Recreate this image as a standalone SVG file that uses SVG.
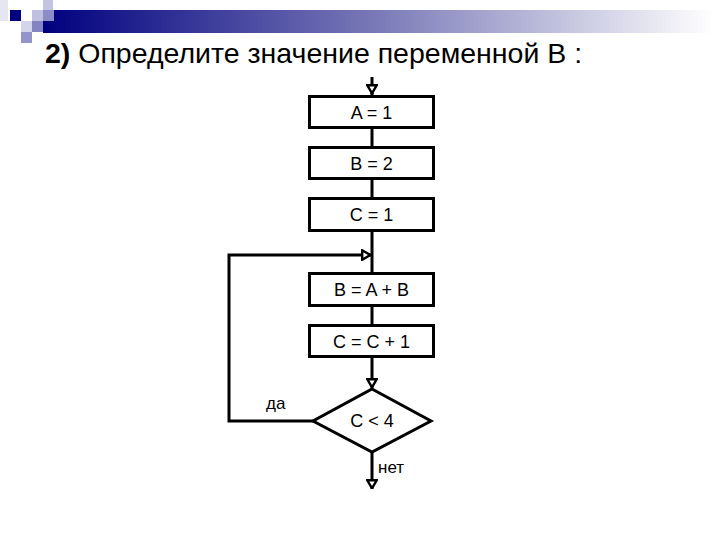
<svg xmlns="http://www.w3.org/2000/svg" width="720" height="540" viewBox="0 0 720 540">
  <defs>
    <linearGradient id="bar" x1="0" y1="0" x2="1" y2="0">
      <stop offset="0" stop-color="#00007f"/>
      <stop offset="0.5" stop-color="#7a7ab8"/>
      <stop offset="1" stop-color="#ffffff"/>
    </linearGradient>
    <marker id="arr" viewBox="0 0 10 12" refX="10" refY="6" markerWidth="10" markerHeight="12" markerUnits="userSpaceOnUse" orient="auto">
      <polygon points="1.2,1.2 9.3,6 1.2,10.8" fill="#ffffff" stroke="#000000" stroke-width="2.4" stroke-linejoin="miter"/>
    </marker>
  </defs>
  <style>
    .box { fill: #ffffff; stroke: #000000; stroke-width: 3; }
    .lbl { font-family: "Liberation Sans", Arial, sans-serif; font-size: 18px; fill: #000000; text-anchor: middle; }
    .small { font-family: "Liberation Sans", Arial, sans-serif; font-size: 17px; fill: #000000; }
    .conn { fill: none; stroke: #000000; stroke-width: 3; }
    .title { font-family: "Liberation Sans", Arial, sans-serif; font-size: 28.5px; fill: #000000; }
  </style>
  <rect width="720" height="540" fill="#ffffff"/>

  <g id="decoration">
    <rect x="43" y="10" width="670" height="23" fill="url(#bar)"/>
    <rect x="0" y="0" width="8" height="21" fill="#e6e6f3"/>
    <rect x="10" y="10" width="11" height="11" fill="#00007f"/>
    <rect x="43" y="0" width="10" height="10" fill="#c4c4e2"/>
    <rect x="32" y="10" width="11" height="11" fill="#c0c0e0"/>
    <rect x="43" y="10" width="11" height="11" fill="#8c8cc6"/>
    <rect x="21" y="21" width="11" height="11" fill="#d4d4ea"/>
    <rect x="32" y="21" width="11" height="11" fill="#8484c2"/>
    <rect x="21" y="32" width="11" height="11" fill="#9494cc"/>
  </g>

  <text class="title" x="45" y="63"><tspan font-weight="bold">2)</tspan> Определите значение переменной В :</text>

  <g id="connectors">
    <path class="conn" d="M372,77 V94" marker-end="url(#arr)"/>
    <path class="conn" d="M372,93 V96"/>
    <path class="conn" d="M372,128 V147"/>
    <path class="conn" d="M372,179 V198"/>
    <path class="conn" d="M372,231 V273"/>
    <path class="conn" d="M372,306 V325"/>
    <path class="conn" d="M372,357 V388" marker-end="url(#arr)"/>
    <path class="conn" d="M313,421 H229 V255 H371" marker-end="url(#arr)"/>
    <path class="conn" d="M372,452 V489" marker-end="url(#arr)"/>
  </g>

  <g id="n1">
    <rect class="box" x="309.5" y="96.5" width="124" height="31"/>
    <text class="lbl" x="371.5" y="118.5">A = 1</text>
  </g>
  <g id="n2">
    <rect class="box" x="309.5" y="147.5" width="124" height="31"/>
    <text class="lbl" x="371.5" y="169.5">B = 2</text>
  </g>
  <g id="n3">
    <rect class="box" x="309.5" y="198.5" width="124" height="32"/>
    <text class="lbl" x="371.5" y="221">C = 1</text>
  </g>
  <g id="n4">
    <rect class="box" x="309.5" y="273.5" width="124" height="32"/>
    <text class="lbl" x="371.5" y="296">B = A + B</text>
  </g>
  <g id="n5">
    <rect class="box" x="309.5" y="325.5" width="124" height="31"/>
    <text class="lbl" x="371.5" y="347.5">C = C + 1</text>
  </g>
  <g id="n6">
    <polygon class="box" points="372,389 431,421 372,452 313,421"/>
    <text class="lbl" x="372" y="426.5">C &lt; 4</text>
  </g>

  <text class="small" x="266" y="409">да</text>
  <text class="small" x="378" y="473">нет</text>
</svg>
